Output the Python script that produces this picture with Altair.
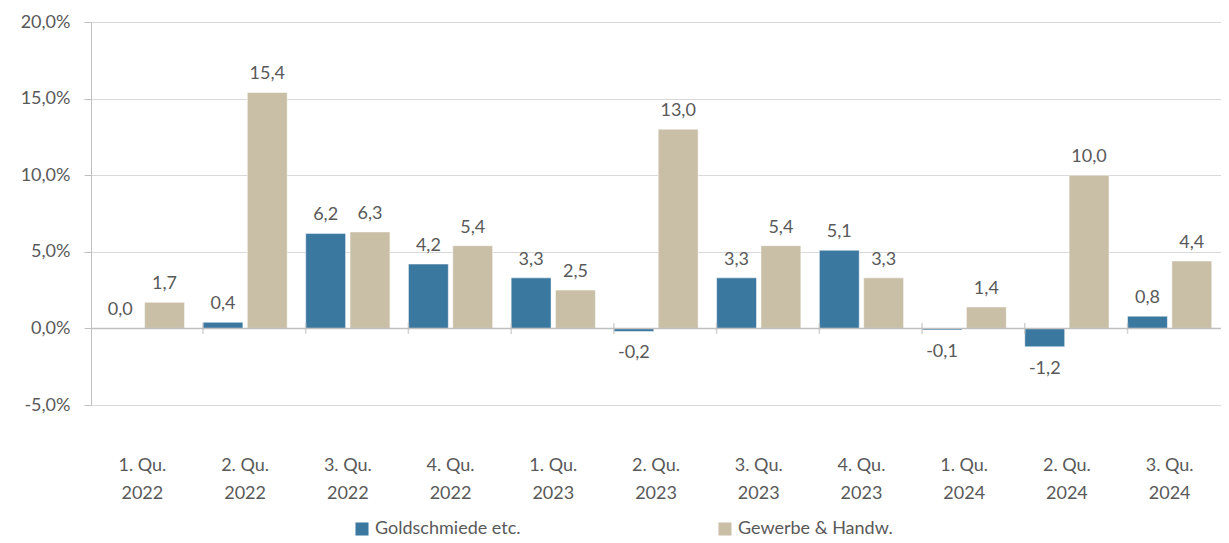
import altair as alt
import pandas as pd

categories = ["1. Qu. 2022", "2. Qu. 2022", "3. Qu. 2022", "4. Qu. 2022",
              "1. Qu. 2023", "2. Qu. 2023", "3. Qu. 2023", "4. Qu. 2023",
              "1. Qu. 2024", "2. Qu. 2024", "3. Qu. 2024"]
series_names = ["Goldschmiede etc.", "Gewerbe & Handw."]
gold = [0.0, 0.4, 6.2, 4.2, 3.3, -0.2, 3.3, 5.1, -0.1, -1.2, 0.8]
gewerbe = [1.7, 15.4, 6.3, 5.4, 2.5, 13.0, 5.4, 3.3, 1.4, 10.0, 4.4]
colors = ["#3B78A0", "#C9BFA7"]
y_ticks = [-5, 0, 5, 10, 15, 20]

rows = []
for i, c in enumerate(categories):
    rows.append({"cat": c, "series": series_names[0], "value": gold[i]})
    rows.append({"cat": c, "series": series_names[1], "value": gewerbe[i]})
df = pd.DataFrame(rows)

FONT = "Lato"
GREY = "#595959"
x_scale = alt.Scale(paddingInner=0.18, paddingOuter=0.09)

x_enc = alt.X("cat:N", sort=categories, title=None, scale=x_scale,
              axis=alt.Axis(domain=False, ticks=False, labelAngle=0,
                            labelExpr="[substring(datum.label,0,6), substring(datum.label,7)]",
                            labelPadding=51, labelLineHeight=28, labelFontSize=18,
                            labelColor=GREY, labelFont=FONT))
xoff = alt.XOffset("series:N", sort=series_names, scale=alt.Scale(paddingInner=0.1))
y_scale = alt.Scale(domain=[-5, 20], nice=False)

bars = alt.Chart(df).mark_bar(stroke="white", strokeWidth=0.5).encode(
    x=x_enc,
    xOffset=xoff,
    y=alt.Y("value:Q", scale=y_scale, title=None,
            axis=alt.Axis(values=y_ticks, grid=True, gridColor="#D9D9D9",
                          domainColor="#BFBFBF", tickColor="#BFBFBF", tickSize=7,
                          labelExpr="replace(replace(format(datum.value, '.1f'), '.', ','), '\u2212', '-') + '%'",
                          labelFontSize=18, labelColor=GREY, labelFont=FONT,
                          labelPadding=14)),
    color=alt.Color("series:N", sort=series_names,
                    scale=alt.Scale(domain=series_names, range=colors),
                    legend=alt.Legend(title=None, orient="none", direction="horizontal",
                                      legendX=262, legendY=498, symbolType="square",
                                      symbolSize=170, symbolStrokeWidth=0,
                                      labelFontSize=18, labelColor=GREY, labelFont=FONT,
                                      columnPadding=195, labelOffset=4)),
)

zero = alt.Chart(pd.DataFrame({"v": [0]})).mark_rule(color="#BFBFBF", strokeWidth=1.5).encode(
    y=alt.Y("v:Q", scale=y_scale)
)

tick_df = pd.DataFrame({"cat": categories[1:], "v": [0.0] * 10})
ticks = alt.Chart(tick_df).mark_tick(color="#BFBFBF", thickness=1.5, size=11, orient="vertical").encode(
    x=alt.X("cat:N", sort=categories, bandPosition=0, scale=x_scale),
    y=alt.Y("v:Q", scale=y_scale),
)

label_expr = "replace(replace(format(datum.value, '.1f'), '.', ','), '\u2212', '-')"
pos_text = alt.Chart(df).transform_filter("datum.value >= 0").transform_calculate(
    lbl=label_expr).mark_text(baseline="bottom", dy=-9, fontSize=18, color=GREY, font=FONT).encode(
    x=alt.X("cat:N", sort=categories), xOffset=xoff,
    y=alt.Y("value:Q", scale=y_scale), text="lbl:N")
neg_text = alt.Chart(df).transform_filter("datum.value < 0").transform_calculate(
    lbl=label_expr).mark_text(baseline="top", dy=13, fontSize=18, color=GREY, font=FONT).encode(
    x=alt.X("cat:N", sort=categories), xOffset=xoff,
    y=alt.Y("value:Q", scale=y_scale), text="lbl:N")

chart = alt.layer(bars, zero, ticks, pos_text, neg_text).properties(
    width=1130, height=383,
    autosize=alt.AutoSizeParams(type="none"),
    padding={"left": 83, "top": 14, "right": 0, "bottom": 136},
).configure_view(stroke=None)

chart.save("out.html", embed_options={"renderer": "svg", "actions": False})
